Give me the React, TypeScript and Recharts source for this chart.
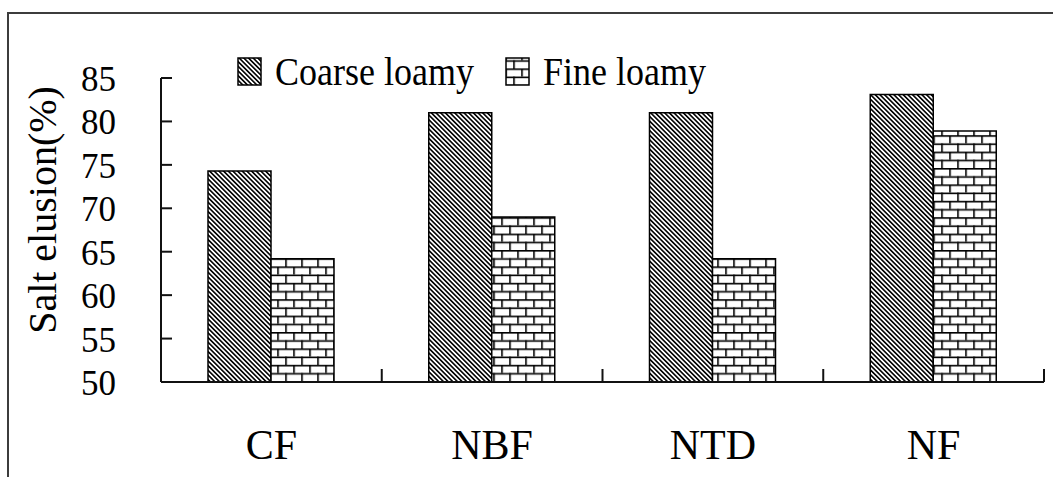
import React from 'react';
import { BarChart, Bar, XAxis, YAxis, Legend } from 'recharts';

const categories = ['CF', 'NBF', 'NTD', 'NF'];
const coarseLoamy = [74.3, 81.0, 81.0, 83.1];
const fineLoamy = [64.2, 69.0, 64.2, 78.9];
const yTicks = [50, 55, 60, 65, 70, 75, 80, 85];
const seriesNames = { coarse: 'Coarse loamy', fine: 'Fine loamy' };

const data = categories.map((c, i) => ({ category: c, coarse: coarseLoamy[i], fine: fineLoamy[i] }));

const FONT = '"Liberation Serif", "Times New Roman", serif';
const AXIS_X = 161;

const Patterns = () => (
  <defs>
    <pattern id="diagPat" patternUnits="userSpaceOnUse" width="3.3" height="3.3" patternTransform="rotate(-45)">
      <rect width="3.3" height="3.3" fill="#fff" />
      <rect x="0" y="0" width="1.6" height="3.3" fill="#000" />
    </pattern>
    <pattern id="brickPat" patternUnits="userSpaceOnUse" x="5.2" y="4" width="16" height="16.4">
      <rect width="16" height="16.4" fill="#fff" />
      <rect x="0" y="0" width="16" height="1.6" fill="#000" />
      <rect x="0" y="8.2" width="16" height="1.6" fill="#000" />
      <rect x="0" y="0" width="1.6" height="8.2" fill="#000" />
      <rect x="8" y="8.2" width="1.6" height="8.2" fill="#000" />
    </pattern>
  </defs>
);

const fills: Record<string, string> = { coarse: 'url(#diagPat)', fine: 'url(#brickPat)' };

const renderLegend = (props: any) => {
  const payload = props.payload || [];
  const xs = [10, 278];
  return (
    <svg width={520} height={50} style={{ overflow: 'visible' }}>
      {payload.map((p: any, i: number) => (
        <g key={p.value}>
          <rect x={xs[i]} y={10} width={23} height={27} fill={fills[p.dataKey]} stroke="#000" strokeWidth={1.5} />
          <text
            transform={`translate(${xs[i] + 37},37) scale(1,1.14)`}
            x={0}
            y={0}
            fontSize={36}
            fontFamily={FONT}
            fill="#000"
          >
            {p.value}
          </text>
        </g>
      ))}
    </svg>
  );
};

const YLabel = () => (
  <text
    x={56}
    y={210}
    transform="rotate(-90, 56, 210)"
    textAnchor="middle"
    fontSize={40}
    fontFamily={FONT}
    fill="#000"
  >
    Salt elusion(%)
  </text>
);

const YTick = (props: any) => {
  const { y, payload } = props;
  return (
    <g>
      <line x1={AXIS_X} x2={AXIS_X + 11} y1={y} y2={y} stroke="#111" strokeWidth={2} />
      <text x={116} y={y} dy={13} textAnchor="end" fontSize={35} fontFamily={FONT} fill="#000">
        {payload.value}
      </text>
    </g>
  );
};

const CatTick = (props: any) => {
  const { x, y, payload, index, visibleTicksCount } = props;
  const half = typeof payload.offset === 'number' && payload.offset > 0 ? payload.offset : 883 / categories.length / 2;
  const count = visibleTicksCount || categories.length;
  return (
    <g>
      <line x1={x - half} x2={x - half} y1={y} y2={y - 13} stroke="#111" strokeWidth={2} />
      {index === count - 1 && <line x1={x + half} x2={x + half} y1={y} y2={y - 13} stroke="#111" strokeWidth={2} />}
      <text x={x} y={y + 77} textAnchor="middle" fontSize={42} fontFamily={FONT} fill="#000">
        {payload.value}
      </text>
    </g>
  );
};

export default function App() {
  return (
    <div style={{ position: 'absolute', left: 0, top: 0, width: 1053, height: 477, overflow: 'hidden', background: '#fff', fontFamily: FONT }}>
      <div style={{ position: 'absolute', left: 7, top: 12, width: 1200, height: 600, border: '2px solid #3c3c3c', boxSizing: 'border-box' }} />
      <div style={{ position: 'absolute', left: 0, top: 0 }}>
        <BarChart
          width={1053}
          height={477}
          data={data}
          margin={{ top: 78, right: 9, left: 0, bottom: 0 }}
          barCategoryGap={47}
          barGap={0}
        >
          <Patterns />
          <XAxis
            dataKey="category"
            type="category"
            interval={0}
            height={95}
            axisLine={{ stroke: '#111', strokeWidth: 2 }}
            tickLine={false}
            tickSize={0}
            tickMargin={0}
            tick={<CatTick />}
          />
          <YAxis
            type="number"
            domain={[50, 85]}
            ticks={yTicks}
            interval={0}
            width={161}
            tickSize={0}
            tickMargin={0}
            axisLine={{ stroke: '#111', strokeWidth: 2 }}
            tickLine={false}
            tick={<YTick />}
            label={{ content: () => <YLabel /> }}
            allowDataOverflow
          />
          <Legend
            layout="horizontal"
            verticalAlign="middle"
            align="center"
            content={renderLegend}
            wrapperStyle={{ position: 'absolute', left: 228, top: 48, width: 520, height: 50 }}
          />
          <Bar dataKey="coarse" name={seriesNames.coarse} fill="url(#diagPat)" stroke="#000" strokeWidth={1.5} isAnimationActive={false} />
          <Bar dataKey="fine" name={seriesNames.fine} fill="url(#brickPat)" stroke="#000" strokeWidth={1.5} isAnimationActive={false} />
        </BarChart>
      </div>
    </div>
  );
}
